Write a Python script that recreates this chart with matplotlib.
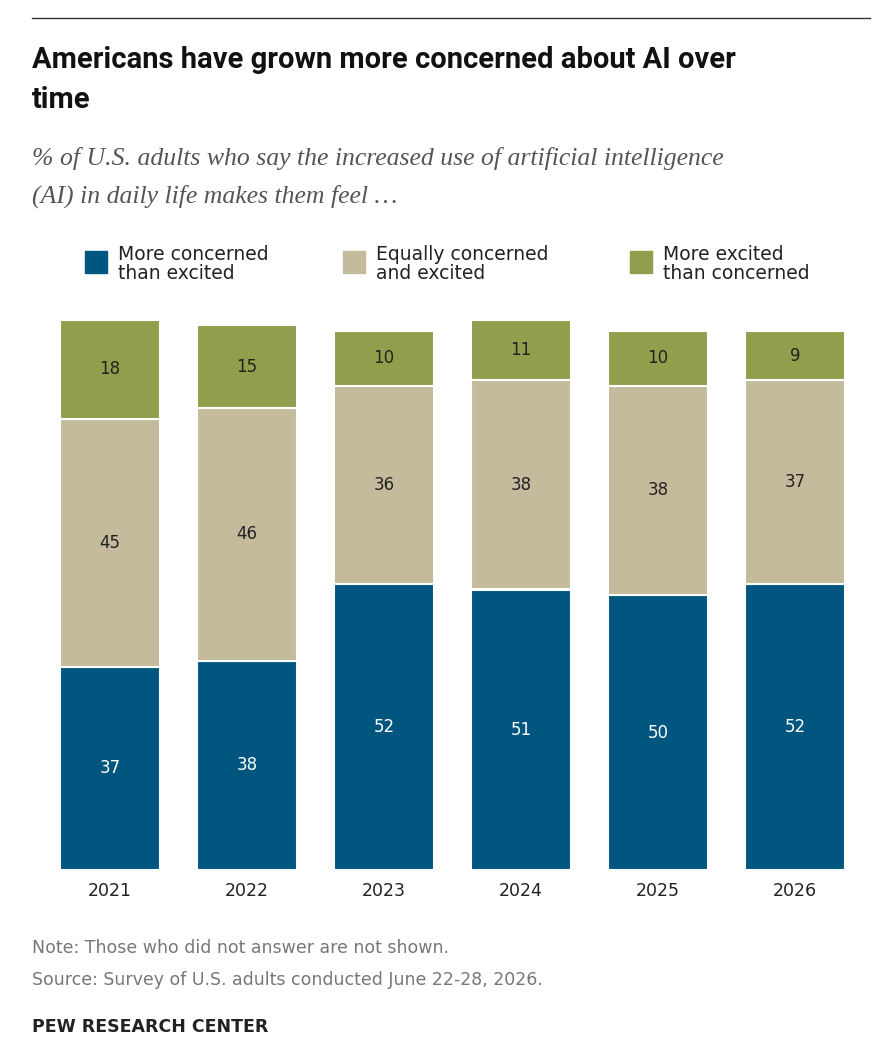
import matplotlib
matplotlib.use("Agg")
import matplotlib.pyplot as plt

years = ["2021", "2022", "2023", "2024", "2025", "2026"]
concerned = [37, 38, 52, 51, 50, 52]
equal = [45, 46, 36, 38, 38, 37]
excited = [18, 15, 10, 11, 10, 9]
series_names = ["More concerned\nthan excited", "Equally concerned\nand excited", "More excited\nthan concerned"]
colors = ["#00567f", "#c4bb9d", "#919e4c"]

W, H = 886, 1038
fig = plt.figure(figsize=(W/100, H/100), dpi=100)
fx = lambda p: p / W
fy = lambda p: 1 - p / H

# top rule
fig.add_artist(plt.Line2D([fx(32), fx(870)], [fy(18), fy(18)], color="#333333", lw=1))
fig.text(fx(32), fy(60), "Americans have grown more concerned about AI over", fontsize=21, fontweight="bold", family="Roboto", va="center", color="#111")
fig.text(fx(32), fy(100), "time", fontsize=21, fontweight="bold", family="Roboto", va="center", color="#111")
fig.text(fx(32), fy(158), "% of U.S. adults who say the increased use of artificial intelligence", fontsize=18.5, style="italic", family="Liberation Serif", va="center", color="#555")
fig.text(fx(32), fy(196), "(AI) in daily life makes them feel …", fontsize=18.5, style="italic", family="Liberation Serif", va="center", color="#555")

# legend
leg_x = [85, 343, 630]
for x, name, c in zip(leg_x, series_names, colors):
    fig.patches.append(plt.Rectangle((fx(x), fy(273)), 22/W, 22/H, color=c, transform=fig.transFigure))
    fig.text(fx(x + 33), fy(264), name, fontsize=13.5, va="center", color="#222", linespacing=1.05)

ax = fig.add_axes([fx(32), fy(870), fx(870) - fx(32), (870 - 320) / H])
x = list(range(len(years)))
bw = 100 / 137
bottoms = [0] * len(years)
for vals, c, tc in zip([concerned, equal, excited], colors, ["white", "#222", "#222"]):
    bars = ax.bar(x, vals, bw, bottom=bottoms, color=c, edgecolor="white", linewidth=1.5)
    for xi, v, b in zip(x, vals, bottoms):
        ax.text(xi, b + v / 2, str(v), ha="center", va="center", fontsize=12, color=tc)
    bottoms = [b + v for b, v in zip(bottoms, vals)]
ax.set_xlim(-78 / 137, (870 - 110) / 137)
ax.set_ylim(0, 100)
ax.set_xticks(x)
ax.set_xticklabels(years, fontsize=12.5, color="#222")
ax.tick_params(axis="x", length=0, pad=9)
ax.set_yticks([])
for s in ax.spines.values():
    s.set_visible(False)

fig.text(fx(32), fy(948), "Note: Those who did not answer are not shown.", fontsize=12.5, va="center", color="#777")
fig.text(fx(32), fy(980), "Source: Survey of U.S. adults conducted June 22-28, 2026.", fontsize=12.5, va="center", color="#777")
fig.text(fx(32), fy(1027), "PEW RESEARCH CENTER", fontsize=12.5, fontweight="bold", va="center", color="#222")

fig.savefig("out.png", dpi=100)
